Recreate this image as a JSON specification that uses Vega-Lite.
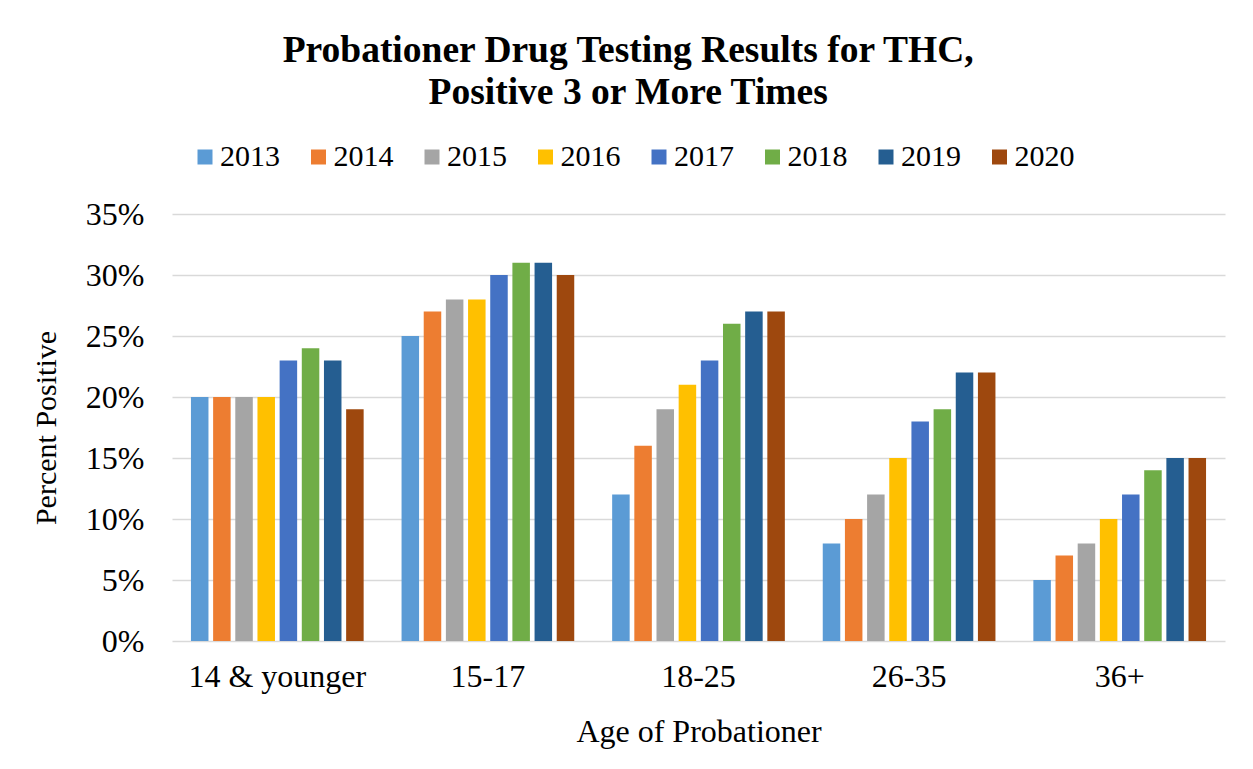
{
  "$schema": "https://vega.github.io/schema/vega-lite/v6.json",
  "width": 1053,
  "height": 427,
  "autosize": "none",
  "padding": {"left": 172, "top": 214, "right": 28, "bottom": 128},
  "background": "white",
  "config": {
    "font": "Liberation Serif",
    "view": {"stroke": null},
    "axis": {"labelFont": "Liberation Serif", "titleFont": "Liberation Serif"},
    "legend": {"labelFont": "Liberation Serif"},
    "title": {"font": "Liberation Serif"}
  },
  "title": {
    "text": ["Probationer Drug Testing Results for THC,", "Positive 3 or More Times"],
    "fontSize": 37.5,
    "fontWeight": "bold",
    "color": "black",
    "anchor": "middle",
    "frame": "bounds",
    "lineHeight": 42,
    "offset": 31
  },
  "data": {
    "values": [
      {"Age": "14 & younger", "Year": "2013", "Pct": 0.20},
      {"Age": "14 & younger", "Year": "2014", "Pct": 0.20},
      {"Age": "14 & younger", "Year": "2015", "Pct": 0.20},
      {"Age": "14 & younger", "Year": "2016", "Pct": 0.20},
      {"Age": "14 & younger", "Year": "2017", "Pct": 0.23},
      {"Age": "14 & younger", "Year": "2018", "Pct": 0.24},
      {"Age": "14 & younger", "Year": "2019", "Pct": 0.23},
      {"Age": "14 & younger", "Year": "2020", "Pct": 0.19},
      {"Age": "15-17", "Year": "2013", "Pct": 0.25},
      {"Age": "15-17", "Year": "2014", "Pct": 0.27},
      {"Age": "15-17", "Year": "2015", "Pct": 0.28},
      {"Age": "15-17", "Year": "2016", "Pct": 0.28},
      {"Age": "15-17", "Year": "2017", "Pct": 0.30},
      {"Age": "15-17", "Year": "2018", "Pct": 0.31},
      {"Age": "15-17", "Year": "2019", "Pct": 0.31},
      {"Age": "15-17", "Year": "2020", "Pct": 0.30},
      {"Age": "18-25", "Year": "2013", "Pct": 0.12},
      {"Age": "18-25", "Year": "2014", "Pct": 0.16},
      {"Age": "18-25", "Year": "2015", "Pct": 0.19},
      {"Age": "18-25", "Year": "2016", "Pct": 0.21},
      {"Age": "18-25", "Year": "2017", "Pct": 0.23},
      {"Age": "18-25", "Year": "2018", "Pct": 0.26},
      {"Age": "18-25", "Year": "2019", "Pct": 0.27},
      {"Age": "18-25", "Year": "2020", "Pct": 0.27},
      {"Age": "26-35", "Year": "2013", "Pct": 0.08},
      {"Age": "26-35", "Year": "2014", "Pct": 0.10},
      {"Age": "26-35", "Year": "2015", "Pct": 0.12},
      {"Age": "26-35", "Year": "2016", "Pct": 0.15},
      {"Age": "26-35", "Year": "2017", "Pct": 0.18},
      {"Age": "26-35", "Year": "2018", "Pct": 0.19},
      {"Age": "26-35", "Year": "2019", "Pct": 0.22},
      {"Age": "26-35", "Year": "2020", "Pct": 0.22},
      {"Age": "36+", "Year": "2013", "Pct": 0.05},
      {"Age": "36+", "Year": "2014", "Pct": 0.07},
      {"Age": "36+", "Year": "2015", "Pct": 0.08},
      {"Age": "36+", "Year": "2016", "Pct": 0.10},
      {"Age": "36+", "Year": "2017", "Pct": 0.12},
      {"Age": "36+", "Year": "2018", "Pct": 0.14},
      {"Age": "36+", "Year": "2019", "Pct": 0.15},
      {"Age": "36+", "Year": "2020", "Pct": 0.15}
    ]
  },
  "mark": {"type": "bar"},
  "encoding": {
    "x": {
      "field": "Age",
      "type": "nominal",
      "sort": null,
      "scale": {"paddingInner": 0.18, "paddingOuter": 0.09},
      "axis": {
        "title": "Age of Probationer",
        "titleFont": "Liberation Serif",
        "titleFontSize": 32,
        "titleFontWeight": "normal",
        "titleColor": "black",
        "titlePadding": 24,
        "labelAngle": 0,
        "labelFont": "Liberation Serif",
        "labelFontSize": 32,
        "labelColor": "black",
        "labelPadding": 20,
        "ticks": false,
        "domain": false
      }
    },
    "xOffset": {
      "field": "Year",
      "type": "nominal",
      "scale": {"paddingInner": 0.21, "paddingOuter": 0}
    },
    "y": {
      "field": "Pct",
      "type": "quantitative",
      "scale": {"domain": [0, 0.35]},
      "axis": {
        "title": "Percent Positive",
        "titleFont": "Liberation Serif",
        "titleFontSize": 30,
        "titleFontWeight": "normal",
        "titleColor": "black",
        "titlePadding": 24,
        "values": [0, 0.05, 0.1, 0.15, 0.2, 0.25, 0.3, 0.35],
        "format": ".0%",
        "labelFont": "Liberation Serif",
        "labelFontSize": 32,
        "labelColor": "black",
        "labelPadding": 28,
        "ticks": false,
        "domain": false,
        "gridColor": "#D9D9D9",
        "gridWidth": 1.5
      }
    },
    "color": {
      "field": "Year",
      "type": "nominal",
      "scale": {
        "domain": ["2013", "2014", "2015", "2016", "2017", "2018", "2019", "2020"],
        "range": ["#5B9BD5", "#ED7D31", "#A5A5A5", "#FFC000", "#4472C4", "#70AD47", "#255E91", "#9E480E"]
      },
      "legend": {
        "title": null,
        "orient": "none",
        "direction": "horizontal",
        "legendX": 18,
        "legendY": -72,
        "symbolType": "square",
        "symbolSize": 225,
        "symbolStrokeWidth": 0,
        "labelFont": "Liberation Serif",
        "labelFontSize": 30,
        "labelColor": "black",
        "labelOffset": 0,
        "columnPadding": 23.5
      }
    }
  }
}
